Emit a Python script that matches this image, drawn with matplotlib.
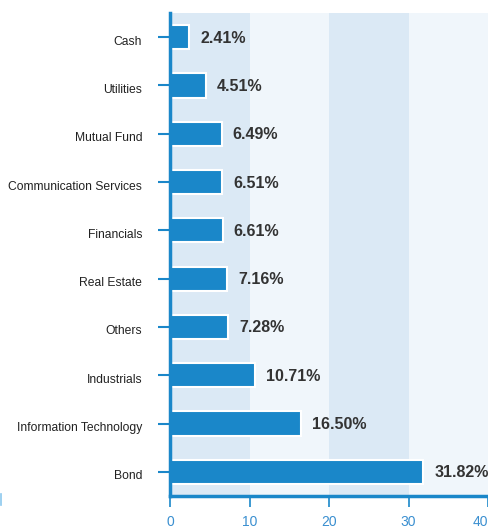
import matplotlib.pyplot as plt
import matplotlib.transforms as mtransforms
from matplotlib.lines import Line2D

# sector weights, top to bottom
sectors = ['Cash', 'Utilities', 'Mutual Fund', 'Communication Services', 'Financials',
           'Real Estate', 'Others', 'Industrials', 'Information Technology', 'Bond']
weights = [2.41, 4.51, 6.49, 6.51, 6.61, 7.16, 7.28, 10.71, 16.50, 31.82]
xticks  = [0, 10, 20, 30, 40]

bar_col   = '#1a87c9'
axis_col  = '#1a87c9'
band_dark = '#dbe9f5'
band_lite = '#f0f6fb'

plt.rcParams['font.family'] = ['Liberation Sans', 'DejaVu Sans']

fig = plt.figure(figsize=(4.88, 5.28), dpi=100)
ax = fig.add_axes([170/488, 1 - 496/528, 318/488, 483/528])

# alternating background bands
for i in range(len(xticks) - 1):
  ax.axvspan(xticks[i], xticks[i+1], color=band_dark if i % 2 == 0 else band_lite, lw=0, zorder=0)

ypos = list(range(len(sectors)))
ax.barh(ypos, weights, height=0.5, color=bar_col, edgecolor='white', linewidth=1.5, zorder=2)

for y, w in zip(ypos, weights):
  ax.text(w + 1.4, y + 0.02, '{:.2f}%'.format(w), va='center', ha='left',
          fontsize=11.5, fontweight='bold', color='#333333', zorder=3)

ax.set_xlim(0, 40)
ax.set_ylim(len(sectors) - 0.5, -0.5)
ax.set_xticks(xticks)
ax.set_yticks(ypos)
ax.set_yticklabels(sectors, fontsize=8.7, color='#222222')
ax.tick_params(axis='x', colors=axis_col, labelcolor='#3a8fd0', labelsize=10,
               length=8, width=1.2, pad=6)
ax.tick_params(axis='y', colors=axis_col, labelcolor='#222222',
               length=9, width=1.5, pad=11)
# last x label sits at the right edge
ax.get_xticklabels()[-1].set_horizontalalignment('right')
# category names sit a little below their ticks
shift = mtransforms.ScaledTranslation(0, -3/100, fig.dpi_scale_trans)
for lbl in ax.get_yticklabels():
  lbl.set_transform(lbl.get_transform() + shift)

for s in ['top', 'right']:
  ax.spines[s].set_visible(False)
for s in ['left', 'bottom']:
  ax.spines[s].set_color(axis_col)
  ax.spines[s].set_linewidth(2.5)

# thin mark at the lower left edge
fig.add_artist(Line2D([1/488, 1/488], [1 - 505/528, 1 - 494/528], color='#8cc8ee', lw=1.2))

fig.savefig('out.png', dpi=100)
